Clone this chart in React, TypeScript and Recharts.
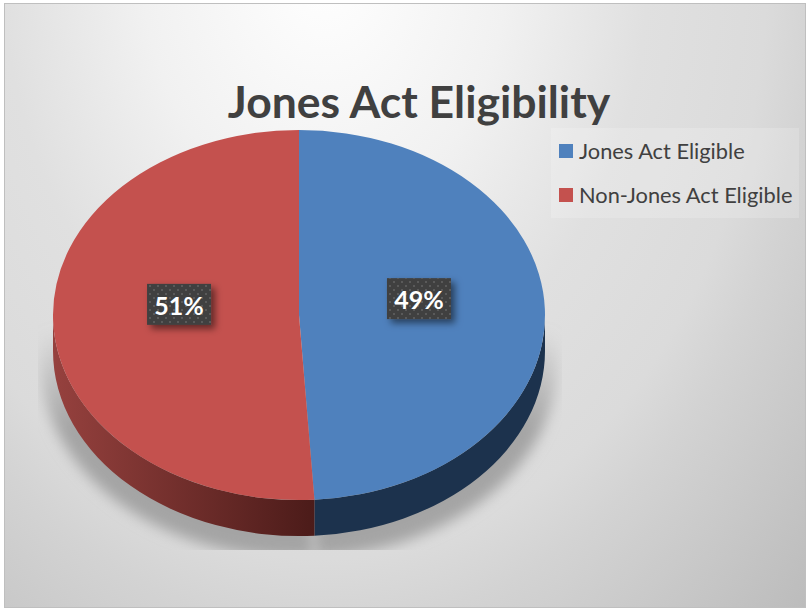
import { PieChart, Pie, Cell, Legend } from 'recharts';

const categories = ['Jones Act Eligible', 'Non-Jones Act Eligible'];
const shares = [49, 51];
const topColors = ['#4f81bd', '#c4514e'];
const sideColors = ['#1c324d', 'url(#redSide)'];

const tableData = categories.map((name, i) => ({ name, value: shares[i] }));

const FONT = 'Lato, "Noto Sans", sans-serif';
const SQUASH = 185 / 246; // tilt of the pie, height over width
const DEPTH = 36;

function ellipsePoint(cx: number, cy: number, r: number, deg: number) {
  const a = (deg * Math.PI) / 180;
  return [cx + r * Math.cos(a), cy - r * SQUASH * Math.sin(a)];
}

function TopSlice(props: any) {
  const { cx, cy, outerRadius: r, startAngle, endAngle, fill } = props;
  const [x1, y1] = ellipsePoint(cx, cy, r, startAngle);
  const [x2, y2] = ellipsePoint(cx, cy, r, endAngle);
  const large = Math.abs(startAngle - endAngle) > 180 ? 1 : 0;
  return <path d={`M${cx},${cy} L${x1},${y1} A${r},${r * SQUASH} 0 ${large} 1 ${x2},${y2} Z`} fill={fill} />;
}

// wall of the disc, only the part that faces the viewer (0 to -180 degrees)
function SideSlice(props: any) {
  const { cx, cy, outerRadius: r, startAngle, endAngle, fill } = props;
  const from = Math.min(startAngle, 0);
  const to = Math.max(endAngle, -180);
  if (from <= to) return null;
  const [x1, y1] = ellipsePoint(cx, cy, r, from);
  const [x2, y2] = ellipsePoint(cx, cy, r, to);
  const ry = r * SQUASH;
  return (
    <path
      d={`M${x1},${y1} A${r},${ry} 0 0 1 ${x2},${y2} L${x2},${y2 + DEPTH} A${r},${ry} 0 0 0 ${x1},${y1 + DEPTH} Z`}
      fill={fill}
    />
  );
}

function ShadowSlice(props: any) {
  const { cx, cy, outerRadius: r, startAngle, endAngle } = props;
  const [x1, y1] = ellipsePoint(cx, cy, r, startAngle);
  const [x2, y2] = ellipsePoint(cx, cy, r, endAngle);
  const large = Math.abs(startAngle - endAngle) > 180 ? 1 : 0;
  return (
    <g clipPath="url(#shadowClip)">
      <path
        d={`M${cx},${cy} L${x1},${y1} A${r},${r * SQUASH} 0 ${large} 1 ${x2},${y2} Z`}
        fill="url(#shadowFade)"
        filter="url(#shadowBlur)"
      />
    </g>
  );
}

function PercentLabel(props: any) {
  const { cx, cy, midAngle, percent } = props;
  const a = (midAngle * Math.PI) / 180;
  const x = cx + 120 * Math.cos(a);
  const y = cy - 0.49 * 185 * Math.sin(a) - 14;
  return (
    <g>
      <rect x={x - 32} y={y - 20} width={64} height={41} fill="#404040" filter="url(#labelShadow)" />
      <rect x={x - 32} y={y - 20} width={64} height={41} fill="url(#dots)" />
      <text x={x} y={y + 1} textAnchor="middle" dominantBaseline="central" fill="#fff" fontFamily={FONT} fontWeight={700} fontSize={25}>
        {`${Math.round(percent * 100)}%`}
      </text>
    </g>
  );
}

function LegendBox({ payload }: any) {
  const items = (payload || []).filter((item: any) => item.type !== 'none');
  return (
    <div style={{ width: 248, height: 90, background: 'rgba(255,255,255,0.18)', fontFamily: FONT, fontSize: 21.8, color: '#404040' }}>
      {items.map((item: any) => (
        <div key={item.value} style={{ boxSizing: 'border-box', height: 44, display: 'flex', alignItems: 'center', paddingLeft: 8, paddingTop: 1 }}>
          <span style={{ width: 14, height: 14, background: item.color, marginRight: 6, flex: 'none' }} />
          <span style={{ whiteSpace: 'nowrap' }}>{item.value}</span>
        </div>
      ))}
    </div>
  );
}

export default function App() {
  return (
    <div style={{ position: 'absolute', left: 0, top: 0, width: 807, height: 609, background: '#fff' }}>
      <div
        style={{
          position: 'absolute',
          left: 4,
          top: 3,
          width: 800,
          height: 603,
          border: '1px solid #bfbfbf',
          background:
            'radial-gradient(ellipse 520px 700px at 320px -40px, #ffffff 0%, #f1f1f1 35%, #e0e0e0 62%, #dbdbdb 85%, #d3d3d3 95%, #bcbcbc 130%)',
        }}
      />
      <div
        style={{
          position: 'absolute',
          left: 0,
          width: 838,
          top: 71,
          textAlign: 'center',
          fontFamily: FONT,
          fontWeight: 700,
          fontSize: 44.5,
          lineHeight: '60px',
          color: '#404040',
        }}
      >
        Jones Act Eligibility
      </div>
      <div style={{ position: 'absolute', left: 0, top: 0 }}>
        <PieChart width={807} height={609} margin={{ top: 0, right: 0, bottom: 0, left: 0 }}>
          <defs>
            <linearGradient id="redSide" gradientUnits="userSpaceOnUse" x1="53" y1="0" x2="316" y2="0">
              <stop offset="0%" stopColor="#96413e" />
              <stop offset="100%" stopColor="#4b1b19" />
            </linearGradient>
            <linearGradient id="shadowFade" gradientUnits="userSpaceOnUse" x1="0" y1="330" x2="0" y2="430">
              <stop offset="0%" stopColor="#a4a4a4" stopOpacity={0} />
              <stop offset="100%" stopColor="#a4a4a4" stopOpacity={1} />
            </linearGradient>
            <clipPath id="shadowClip">
              <rect x={38} y={320} width={524} height={230} />
            </clipPath>
            <filter id="shadowBlur" filterUnits="userSpaceOnUse" x="0" y="100" width="620" height="500">
              <feGaussianBlur stdDeviation="7" />
            </filter>
            <filter id="labelShadow" x="-30%" y="-30%" width="170%" height="190%">
              <feDropShadow dx="4" dy="4" stdDeviation="3.5" floodColor="#000" floodOpacity="0.5" />
            </filter>
            <pattern id="dots" patternUnits="userSpaceOnUse" width="8" height="8">
              <rect x="1" y="1" width="2" height="2" fill="#5a5a5a" />
              <rect x="5" y="5" width="2" height="2" fill="#5a5a5a" />
            </pattern>
          </defs>
          <Pie
            data={tableData}
            dataKey="value"
            nameKey="name"
            cx={299}
            cy={364}
            outerRadius={258}
            startAngle={90}
            endAngle={-270}
            stroke="none"
            shape={ShadowSlice}
            legendType="none"
            isAnimationActive={false}
          />
          <Pie
            data={tableData}
            dataKey="value"
            nameKey="name"
            cx={299}
            cy={315}
            outerRadius={246}
            startAngle={90}
            endAngle={-270}
            stroke="none"
            shape={SideSlice}
            legendType="none"
            isAnimationActive={false}
          >
            {tableData.map((d, i) => (
              <Cell key={d.name} fill={sideColors[i]} />
            ))}
          </Pie>
          <Pie
            data={tableData}
            dataKey="value"
            nameKey="name"
            cx={299}
            cy={315}
            outerRadius={246}
            startAngle={90}
            endAngle={-270}
            stroke="none"
            shape={TopSlice}
            label={PercentLabel}
            labelLine={false}
            isAnimationActive={false}
          >
            {tableData.map((d, i) => (
              <Cell key={d.name} fill={topColors[i]} />
            ))}
          </Pie>
          <Legend
            content={LegendBox}
            layout="vertical"
            wrapperStyle={{ position: 'absolute', left: 551, top: 128, width: 248, height: 90 }}
          />
        </PieChart>
      </div>
    </div>
  );
}
